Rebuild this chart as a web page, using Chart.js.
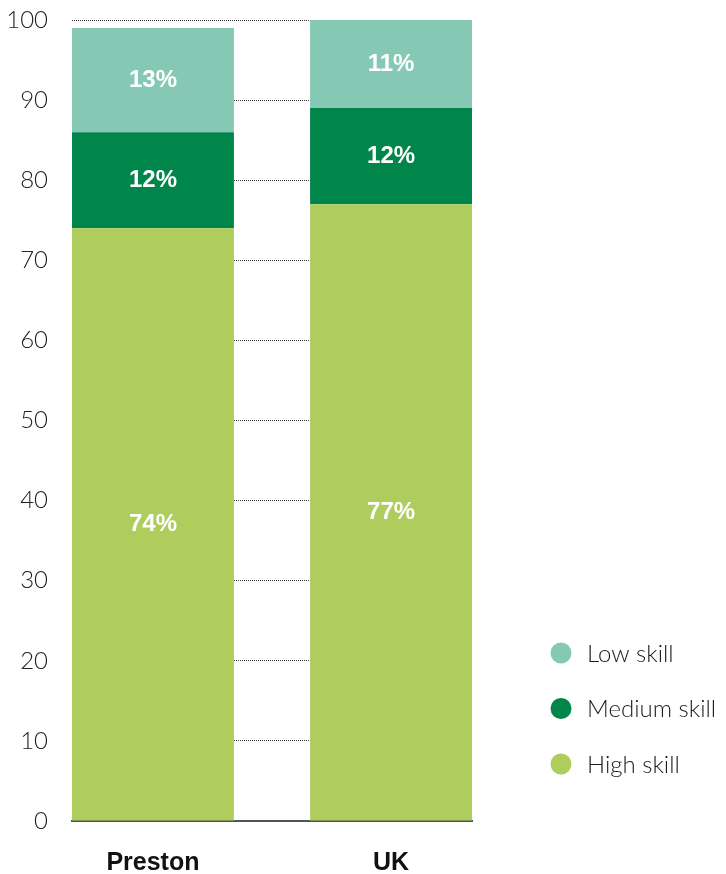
<!DOCTYPE html>
<html>
<head>
<meta charset="utf-8">
<script src="https://cdn.jsdelivr.net/npm/chart.js@4/dist/chart.umd.min.js"></script>
<style>
  html, body { margin: 0; padding: 0; background: #ffffff; }
  #wrap { width: 726px; height: 874px; position: relative; }
</style>
</head>
<body>
<div id="wrap"><canvas id="skills" width="726" height="874"></canvas></div>
<script>
// Share of employment by skill level (%)
const categories = ['Preston', 'UK'];
const highSkill = [74, 77];
const mediumSkill = [12, 12];
const lowSkill = [13, 11];
const seriesNames = ['High skill', 'Medium skill', 'Low skill'];
const seriesColours = ['#AECD5C', '#00854A', '#85C8B4'];
const yTickValues = [0, 10, 20, 30, 40, 50, 60, 70, 80, 90, 100];

const LIGHT_FONT = 'Lato, "Liberation Sans", sans-serif';
const BOLD_FONT = '"Liberation Sans", Arial, sans-serif';

const toPoints = arr => arr.map((v, i) => ({ x: i, y: v }));
const seriesValues = [highSkill, mediumSkill, lowSkill];

const datasets = seriesNames.map((name, k) => ({
  label: name,
  data: toPoints(seriesValues[k]),
  backgroundColor: seriesColours[k],
  borderWidth: 0,
  categoryPercentage: 0.68,
  barPercentage: 1
}));

// White percentage labels centred in each segment
const segmentLabels = {
  id: 'segmentLabels',
  afterDatasetsDraw(chart) {
    const ctx = chart.ctx;
    ctx.save();
    ctx.fillStyle = '#ffffff';
    ctx.font = 'bold 24px ' + BOLD_FONT;
    ctx.textAlign = 'center';
    ctx.textBaseline = 'middle';
    chart.data.datasets.forEach((ds, di) => {
      const meta = chart.getDatasetMeta(di);
      meta.data.forEach((bar, i) => {
        const v = ds.data[i].y;
        const cy = (bar.y + bar.base) / 2;
        ctx.fillText(v + '%', bar.x, cy);
      });
    });
    ctx.restore();
  }
};

// Legend with round markers, top series listed first
const sideLegend = {
  id: 'sideLegend',
  afterDraw(chart) {
    const ctx = chart.ctx;
    const x0 = 561, y0 = 653, rowGap = 55.5, r = 10.5;
    ctx.save();
    ctx.textAlign = 'left';
    ctx.textBaseline = 'middle';
    ctx.font = '300 24px ' + LIGHT_FONT;
    const items = chart.data.datasets.slice().reverse();
    items.forEach((ds, i) => {
      const y = y0 + i * rowGap;
      ctx.beginPath();
      ctx.arc(x0, y, r, 0, Math.PI * 2);
      ctx.fillStyle = ds.backgroundColor;
      ctx.fill();
      ctx.fillStyle = '#1a1a1a';
      ctx.fillText(ds.label, x0 + 26, y + 1);
    });
    ctx.restore();
  }
};

new Chart(document.getElementById('skills'), {
  type: 'bar',
  data: { datasets },
  options: {
    responsive: false,
    devicePixelRatio: 1,
    animation: false,
    layout: { padding: { top: 20, right: 254, bottom: 0, left: 0 } },
    plugins: {
      legend: { display: false },
      tooltip: { enabled: false }
    },
    scales: {
      x: {
        type: 'linear',
        stacked: true,
        offset: false,
        min: -0.34,
        max: 1.34,
        grid: { display: false },
        border: { display: true, color: '#555555', width: 2 },
        afterBuildTicks: s => { s.ticks = categories.map((_, i) => ({ value: i })); },
        afterFit: s => { s.height = 53; s.paddingLeft = 0; s.paddingRight = 0; },
        ticks: {
          padding: 19,
          color: '#111111',
          font: { family: BOLD_FONT, size: 25, weight: 'bold' },
          callback: v => categories[v] !== undefined ? categories[v] : ''
        }
      },
      y: {
        stacked: true,
        min: 0,
        max: 100,
        afterBuildTicks: s => { s.ticks = yTickValues.map(v => ({ value: v })); },
        afterFit: s => { s.width = 72; s.paddingTop = 0; s.paddingBottom = 0; },
        grid: { color: '#333333', lineWidth: 1, drawTicks: false },
        border: { display: false, dash: [1, 1] },
        ticks: {
          padding: 24,
          color: '#222222',
          font: { family: LIGHT_FONT, size: 24, weight: 300 }
        }
      }
    }
  },
  plugins: [segmentLabels, sideLegend]
});
</script>
</body>
</html>
